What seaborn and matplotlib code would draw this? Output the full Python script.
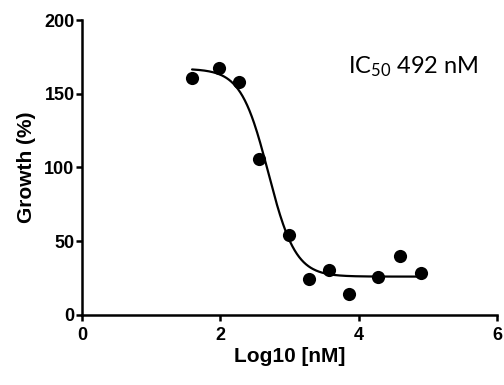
import numpy as np
import pandas as pd
import matplotlib
matplotlib.use("Agg")
import matplotlib.pyplot as plt
import seaborn as sns

# Measured growth (%) at each log10 concentration (nM)
log_conc = [1.59, 1.98, 2.27, 2.56, 2.99, 3.28, 3.57, 3.86, 4.28, 4.60, 4.90]
growth = [161, 167.5, 158, 106, 54, 24.5, 30.5, 14, 26, 40, 28.5]

# Four-parameter logistic fit
fit_top = 167.0
fit_bottom = 26.0
ic50_nM = 492
hill_slope = 2.2

x_ticks = [0, 2, 4, 6]
y_ticks = [0, 50, 100, 150, 200]

sns.set_theme(style="ticks")
plt.rcParams["font.family"] = ["Liberation Sans", "DejaVu Sans"]
plt.rcParams["mathtext.fontset"] = "custom"
plt.rcParams["mathtext.rm"] = "Lato"
plt.rcParams["mathtext.it"] = "Lato"

fig = plt.figure(figsize=(5.04, 3.85), dpi=100)
ax = fig.add_axes([0.163, 0.182, 0.823, 0.766])

log_ic50 = np.log10(ic50_nM)
xs = np.linspace(min(log_conc), max(log_conc), 300)
ys = fit_bottom + (fit_top - fit_bottom) / (1 + 10 ** ((xs - log_ic50) * hill_slope))
curve = pd.DataFrame({"x": xs, "y": ys})
points = pd.DataFrame({"x": log_conc, "y": growth})

sns.lineplot(data=curve, x="x", y="y", ax=ax, color="black", linewidth=1.6)
sns.scatterplot(data=points, x="x", y="y", ax=ax, color="black", s=90,
                edgecolor="black", linewidth=0, zorder=3)

ax.set_xlim(0, 6)
ax.set_ylim(0, 200)
ax.set_xticks(x_ticks)
ax.set_yticks(y_ticks)
sns.despine(ax=ax)
for side in ("left", "bottom"):
    ax.spines[side].set_linewidth(1.8)
    ax.spines[side].set_color("black")
ax.tick_params(axis="both", direction="out", length=4.5, width=1.8, color="black",
               labelsize=13, labelcolor="black")
ax.tick_params(axis="y", pad=1)
ax.tick_params(axis="x", pad=4)
for lab in ax.get_xticklabels() + ax.get_yticklabels():
    lab.set_fontweight("bold")

ax.set_xlabel("Log10 [nM]", fontsize=15, fontweight="bold", color="black", labelpad=2)
ax.set_ylabel("Growth (%)", fontsize=15, fontweight="bold", color="black", labelpad=6)

ax.text(3.84, 164, r"IC$_{\mathrm{50}}$ 492 nM", fontsize=17, family="Lato",
        color="black", ha="left", va="baseline")

fig.savefig("out.png", dpi=100)
